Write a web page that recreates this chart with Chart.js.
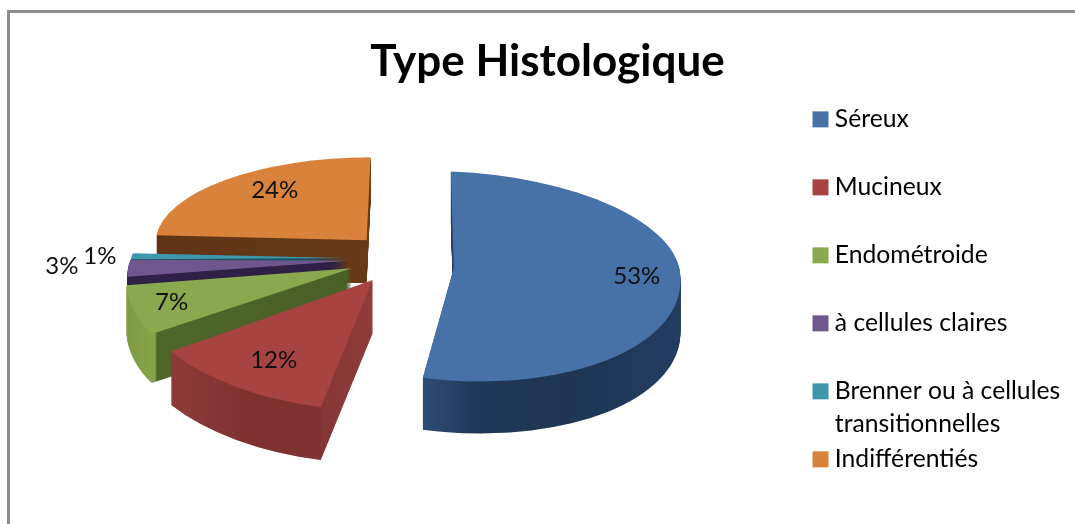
<!DOCTYPE html>
<html><head><meta charset="utf-8">
<style>html,body{margin:0;padding:0;background:#fff}canvas{display:block}</style>
<script src="https://cdn.jsdelivr.net/npm/chart.js@4"></script>
</head><body>
<canvas id="c" width="1075" height="524"></canvas>
<script>
// ---- data ----
const categories = ["Séreux","Mucineux","Endométroide","à cellules claires","Brenner ou à cellules transitionnelles","Indifférentiés"];
const values = [53,12,7,3,1,24];
const titleText = "Type Histologique";
// ---- style ----
const topColors = ["#4672a8","#a74341","#8aa94e","#70568e","#3f97ad","#d9823b"];
const sideStops = [
  [[423,"#2e4d76"],[475,"#203857"],[570,"#1e3553"],[681,"#213d60"]],
  [[172,"#8d3a38"],[250,"#7d3230"],[320,"#7f3331"],[323,"#853735"],[375,"#8f3c3a"]],
  [[125,"#7f9c45"],[155,"#86a349"],[157,"#4f6629"],[355,"#4a6027"]],
  [[120,"#2e2145"],[350,"#2e2145"]],
  [[120,"#1d5563"],[350,"#1d5563"]],
  [[155,"#5f3415"],[370,"#683a17"]]
];
const FONT = "Lato, Carlito, Calibri, sans-serif";
// ---- 3D look: per-slice projection of the flat pie ----
const R = 222, CX = 395, CY = 258, TILT = 0.45;
const explode = [59,44,48,47,50,40];
const lift = [8,5,1,0,0,-5];
const depth = [52,53,49,20,20,43];
const proj = [
  {a:1.02, b:-.022,e:.054, d:.431, dBelow:.51, bBelow:.016},
  {a:1.103,b:-.066,e:.048,d:.586},
  {a:.998, b:-.185,e:.044,d:.538},
  {a:.976, b:-.195,e:.019,d:.407},
  {a:.96,  b:-.14, e:.01, d:.43},
  {a:.948, b:-.051,e:.012,d:.374}
];
const paintOrder = [5,4,3,2,1,0];
const labelRadial = [.81,.725,.827,1.30,1.15,.65];
const labelLift = [-6,3,-1,-4,0,-11];
const LEGEND_LEFT = 816.5, LEGEND_TOP = 105;

function flatOptions(fill){
  return {backgroundColor:fill,borderColor:'transparent',borderWidth:0,borderAlign:'center',
    borderJoinStyle:'round',borderRadius:0,borderDash:[],borderDashOffset:0,offset:0,spacing:0,circular:true,selfJoin:false};
}
function apex(arc,i){
  const mid=(arc.startAngle+arc.endAngle)/2;
  return {x:CX+explode[i]*Math.cos(mid), y:CY+explode[i]*Math.sin(mid)*TILT+lift[i], mid};
}
function paintArc(c,arc,i,dy,fill){
  const p=proj[i], o=apex(arc,i), clone=Object.create(arc);
  clone.options=flatOptions(fill);
  const parts = p.dBelow ? [[p.b,p.d,-2000,2001],[p.bBelow,p.dBelow,-1,2001]] : [[p.b,p.d,null,null]];
  parts.forEach(([b,d,y0,h])=>{
    c.save();
    c.setTransform(p.a,p.e,b,d,o.x,o.y+dy);
    if(y0!==null){c.beginPath();c.rect(-2000,y0,4000,h);c.clip();}
    c.translate(-arc.x,-arc.y);
    clone.draw(c);
    c.restore();
  });
}
const pie3d = {
  id:'pie3d',
  afterLayout(chart){
    const L=chart.legend;
    L.left=LEGEND_LEFT; L.top=LEGEND_TOP;
    L.draw=function(){this._draw();};   // no clip to the legend box: keys overhang its left edge
    chart.titleBlock.left=20; chart.titleBlock.right=1075;
  },
  beforeDraw(chart){
    const c=chart.ctx;
    c.save();c.fillStyle="#fff";c.fillRect(0,0,1075,524);
    c.fillStyle="#8c8c8c";c.fillRect(7,10,3,514);c.fillRect(7,10,1068,3);c.restore();
  },
  beforeDatasetsDraw(chart){
    const c=chart.ctx, arcs=chart.getDatasetMeta(0).data;
    paintOrder.forEach(i=>{
      const arc=arcs[i];
      const off=document.createElement('canvas');off.width=1075;off.height=524;
      const oc=off.getContext('2d');
      for(let dy=depth[i];dy>=1;dy--) paintArc(oc,arc,i,dy,"#000");
      oc.globalCompositeOperation='source-in';
      const st=sideStops[i],x0=st[0][0],x1=st[st.length-1][0];
      const g=oc.createLinearGradient(x0,0,x1,0);
      st.forEach(s=>g.addColorStop((s[0]-x0)/(x1-x0),s[1]));
      oc.fillStyle=g;oc.fillRect(0,0,1075,524);
      c.drawImage(off,0,0);
      paintArc(c,arc,i,0,topColors[i]);
    });
    return false;
  },
  afterDraw(chart){
    const c=chart.ctx, arcs=chart.getDatasetMeta(0).data;
    c.save();c.font="24px "+FONT;c.fillStyle="#111";c.textAlign='center';c.textBaseline='middle';
    arcs.forEach((arc,i)=>{
      const o=apex(arc,i),p=proj[i],X=Math.cos(o.mid),Y=Math.sin(o.mid),f=labelRadial[i]*R;
      const d=(p.dBelow&&Y>0)?p.dBelow:p.d;
      c.fillText(values[i]+"%",o.x+f*(p.a*X+p.b*Y),o.y+f*(p.e*X+d*Y)+labelLift[i]);
    });
    c.restore();
  }
};
function wrapLegend(t){
  if(t.length<=21) return [t,""];
  const k=t.lastIndexOf(" ",21);
  return [t.slice(0,k),t.slice(k+1)];
}
new Chart(document.getElementById('c'),{
  type:'pie',
  data:{labels:categories,datasets:[{data:values,backgroundColor:topColors,borderWidth:0,radius:R,clip:false}]},
  options:{
    responsive:false,animation:false,rotation:-2,
    events:[],
    plugins:{
      tooltip:{enabled:false},
      title:{display:true,text:titleText,color:"#000",padding:{top:35,bottom:0},
        font:{family:FONT,size:44,weight:'bold',lineHeight:1.2}},
      legend:{position:'right',align:'start',
        labels:{color:"#111",padding:2,boxWidth:4,boxHeight:4,
          font:{family:FONT,size:24.7,lineHeight:33/24.7},
          generateLabels(){
            return categories.map((t,i)=>({text:wrapLegend(t),fillStyle:topColors[i],strokeStyle:topColors[i],
              lineWidth:12,lineJoin:'miter',hidden:false,index:i}));
          }}}
    }
  },
  plugins:[pie3d]
});
</script>
</body></html>
